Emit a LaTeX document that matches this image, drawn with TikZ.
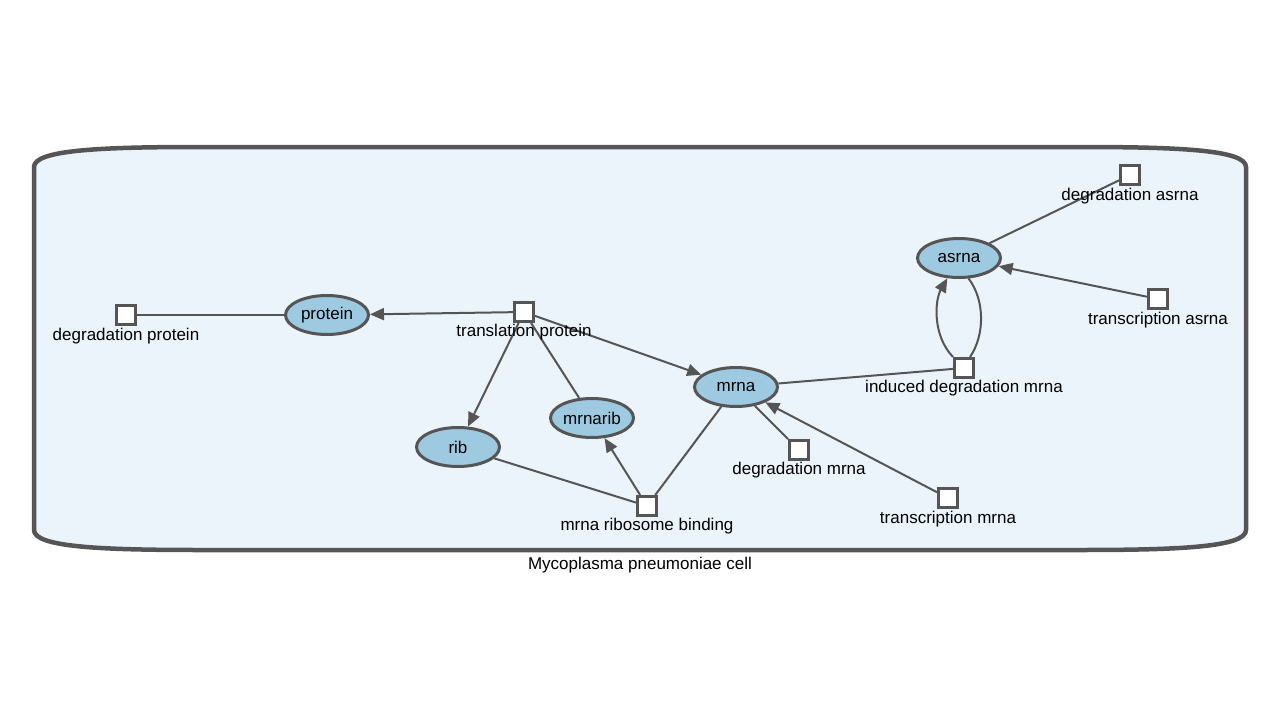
\documentclass[tikz,border=0pt]{standalone}
\usepackage{fontspec}
\setmainfont{Liberation Sans}
\usetikzlibrary{arrows.meta,shapes.geometric}
\definecolor{edgegray}{HTML}{555555}
\definecolor{speciesfill}{HTML}{9ECAE1}
\definecolor{cellfill}{HTML}{EBF4FA}

\begin{document}
\begin{tikzpicture}[x=1pt,y=-1pt,
  txt/.style={font=\fontsize{17}{20}\selectfont},
  species/.style={ellipse, draw=edgegray, fill=speciesfill, line width=3pt,
    minimum width=83pt, minimum height=39pt, inner sep=0pt, txt},
  reaction/.style={rectangle, draw=edgegray, fill=white, line width=3pt,
    minimum size=19pt, inner sep=0pt},
  rlabel/.style={anchor=base, inner sep=0pt, txt},
  link/.style={draw=edgegray, line width=2pt},
  prod/.style={link, -{Triangle[length=14pt,width=12pt]}}
]
\useasboundingbox (0,0) rectangle (1280,720);

% compartment
\path[draw=edgegray, fill=cellfill, line width=4.5pt]
  (34,167) .. controls (34,150) and (100,147) .. (200,147)
  -- (1080,147) .. controls (1180,147) and (1246,150) .. (1246,167)
  -- (1246,530) .. controls (1246,547) and (1180,550) .. (1080,550)
  -- (200,550) .. controls (100,550) and (34,547) .. (34,530) -- cycle;
\node[rlabel] (cell) at (640,569) {Mycoplasma pneumoniae cell};

% species
\node[species] (protein) at (327,315) {protein};
\node[species] (mrnarib) at (592,418) {mrnarib};
\node[species] (rib) at (458,447) {rib};
\node[species] (mrna) at (736,387) {mrna};
\node[species] (asrna) at (959,258) {asrna};

% reactions
\node[reaction] (degprot) at (126,315) {};
\node[reaction] (transl) at (524,312) {};
\node[reaction] (ribbind) at (647,506) {};
\node[reaction] (degmrna) at (799,450) {};
\node[reaction] (trmrna) at (948,498) {};
\node[reaction] (inddeg) at (964,368) {};
\node[reaction] (degasrna) at (1130,175) {};
\node[reaction] (trasrna) at (1158,299) {};

% connectors
\draw[link] (degprot) -- (protein);
\draw[prod] (transl) -- (protein);
\draw[prod] (transl) -- (mrna);
\draw[prod] (transl) -- (rib);
\draw[link] (transl) -- (mrnarib);
\draw[link] (ribbind) -- (rib);
\draw[prod] (ribbind) -- (mrnarib);
\draw[link] (ribbind) -- (mrna);
\draw[link] (mrna) -- (degmrna);
\draw[prod] (trmrna) -- (mrna);
\draw[link] (mrna) -- (inddeg);
\draw[prod] (inddeg.north west) .. controls (932,335) and (935,300) .. (asrna.240);
\draw[link] ([xshift=6pt]inddeg.north) .. controls (985,335) and (985,300) .. (asrna.295);
\draw[link] (asrna) -- (degasrna);
\draw[prod] (trasrna) -- (asrna);

% reaction labels
\node[rlabel] (degprot-l) at (126,340) {degradation protein};
\node[rlabel] (transl-l) at (524,336) {translation protein};
\node[rlabel] (ribbind-l) at (647,530) {mrna ribosome binding};
\node[rlabel] (degmrna-l) at (799,474) {degradation mrna};
\node[rlabel] (trmrna-l) at (948,523) {transcription mrna};
\node[rlabel] (inddeg-l) at (964,392) {induced degradation mrna};
\node[rlabel] (degasrna-l) at (1130,200) {degradation asrna};
\node[rlabel] (trasrna-l) at (1158,324) {transcription asrna};
\end{tikzpicture}
\end{document}
